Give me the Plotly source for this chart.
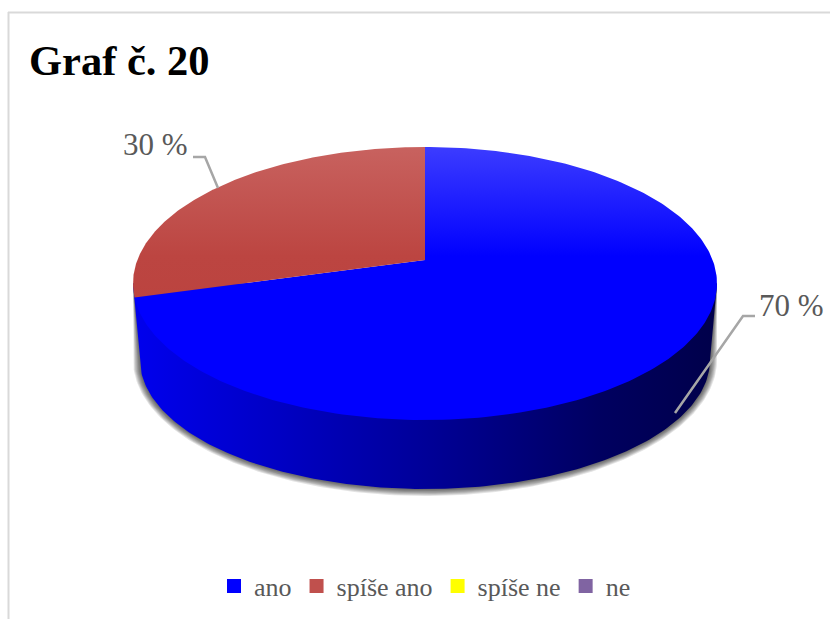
import numpy as np
import plotly.graph_objects as go

# ---- data ----
categories = ["ano", "spíše ano", "spíše ne", "ne"]
values = [70, 30, 0, 0]
value_labels = ["70 %", "30 %"]
title_text = "Graf č. 20"

# ---- styles / geometry ----
swatches = ["#0000ff", "#c0504d", "#ffff00", "#8064a2"]
W, H = 830, 619
VX, VY = 425, 260           # projected centre of the pie
BACK, FRONT = 113, 160      # distance from VX,VY to rear and front rim
HALF_W = 292
K = (FRONT - BACK) / (FRONT + BACK)
A = HALF_W * np.sqrt(1 - K ** 2)
B = FRONT * (1 - K)
WARP = 0.07                 # small angular correction of the 3-D view


def rim(frac):
    """Perspective projection of a pie fraction (0 = top, clockwise)."""
    t = np.asarray(frac) * 2 * np.pi
    t = t + WARP * np.sin(2 * t)
    u, v = np.sin(t), -np.cos(t)
    w = 1 - K * v
    return VX + A * u / w, VY + B * v / w


CY_TOP = (VY - BACK + VY + FRONT) / 2
BASE_CX, BASE_CY, BASE_RX, BASE_RY = 425, 360, 285, 129


def base_outline(grow=0.0, dy=0.0):
    th = np.linspace(np.pi, 0, 181)
    bx = BASE_CX + (BASE_RX + grow) * np.cos(th)
    by = BASE_CY + dy + (BASE_RY + grow) * np.sin(th)
    x = np.r_[VX - HALF_W, bx, VX + HALF_W]
    y = np.r_[CY_TOP, by, CY_TOP]
    return x, y


fig = go.Figure()

# soft shadow round the wall
for g in [7, 6, 5, 4, 3, 2, 1]:
    sx, sy = base_outline(g, 0)
    fig.add_trace(go.Scatter(x=sx, y=sy, mode="lines", fill="toself", line=dict(width=0),
                             fillcolor="rgba(0,0,0,0.11)", showlegend=False, hoverinfo="skip"))

# wall
wx, wy = base_outline()
fig.add_trace(go.Scatter(
    x=wx, y=wy, mode="lines", fill="toself", line=dict(width=0), showlegend=False, hoverinfo="skip",
    fillgradient=dict(type="horizontal", start=133, stop=717,
                      colorscale=[[0, "#0000ee"], [0.25, "#0000c4"], [0.5, "#000098"],
                                  [0.8, "#000060"], [1, "#00004a"]])))

# top face wedges
grads = {
    0: [[0, "#3c3cff"], [0.4, "#0000ff"], [1, "#0000ff"]],
    1: [[0, "#c8625f"], [0.4, "#bc4541"], [1, "#b93f3b"]],
}
total = sum(values)
start = 0.0
for i, val in enumerate(values):
    if val == 0:
        continue
    end = start + val / total
    fr = np.linspace(start, end, 241)
    rx, ry = rim(fr)
    fig.add_trace(go.Scatter(
        x=np.r_[VX, rx, VX], y=np.r_[VY, ry, VY], mode="lines", fill="toself",
        line=dict(width=0), showlegend=False, hoverinfo="skip",
        fillgradient=dict(type="vertical", start=147, stop=420, colorscale=grads[i])))
    start = end

# leader lines
leaders = [([675, 743, 755], [413, 316, 316]), ([218, 205, 193], [188, 157, 157])]
for lx, ly in leaders:
    fig.add_trace(go.Scatter(x=lx, y=ly, mode="lines", line=dict(color="#a6a6a6", width=2.5),
                             showlegend=False, hoverinfo="skip"))

# legend entries
for name, col in zip(categories, swatches):
    fig.add_trace(go.Scatter(x=[None], y=[None], mode="markers", name=name,
                             marker=dict(symbol="square", size=14, color=col)))

font = "Liberation Serif"
fig.add_annotation(x=757, y=305, text=value_labels[0], showarrow=False, xanchor="left",
                   font=dict(family=font, size=31, color="#595959"))
fig.add_annotation(x=121, y=144, text=value_labels[1], showarrow=False, xanchor="left",
                   font=dict(family=font, size=31, color="#595959"))

fig.update_layout(
    width=W, height=H, autosize=False,
    margin=dict(l=0, r=0, t=0, b=0),
    paper_bgcolor="white", plot_bgcolor="white",
    title=dict(text=f"<b>{title_text}</b>", x=29 / W, xanchor="left", y=1 - 60 / H, yanchor="middle",
               font=dict(family=font, size=42.5, color="#000000")),
    xaxis=dict(range=[0, W], visible=False, fixedrange=True),
    yaxis=dict(range=[H, 0], visible=False, fixedrange=True),
    showlegend=True,
    legend=dict(orientation="h", x=214 / W, xanchor="left", y=1 - 586 / H, yanchor="middle",
                font=dict(family=font, size=26, color="#595959"), bgcolor="rgba(0,0,0,0)"),
    shapes=[
        dict(type="line", x0=8, x1=W, y0=12.5, y1=12.5, line=dict(color="#d9d9d9", width=2)),
        dict(type="line", x0=8.5, x1=8.5, y0=12, y1=H, line=dict(color="#d9d9d9", width=2)),
    ],
)

fig.write_html("out.html", config=dict(displayModeBar=False),
               post_script="document.body.style.margin='0';document.body.style.overflow='hidden';")
